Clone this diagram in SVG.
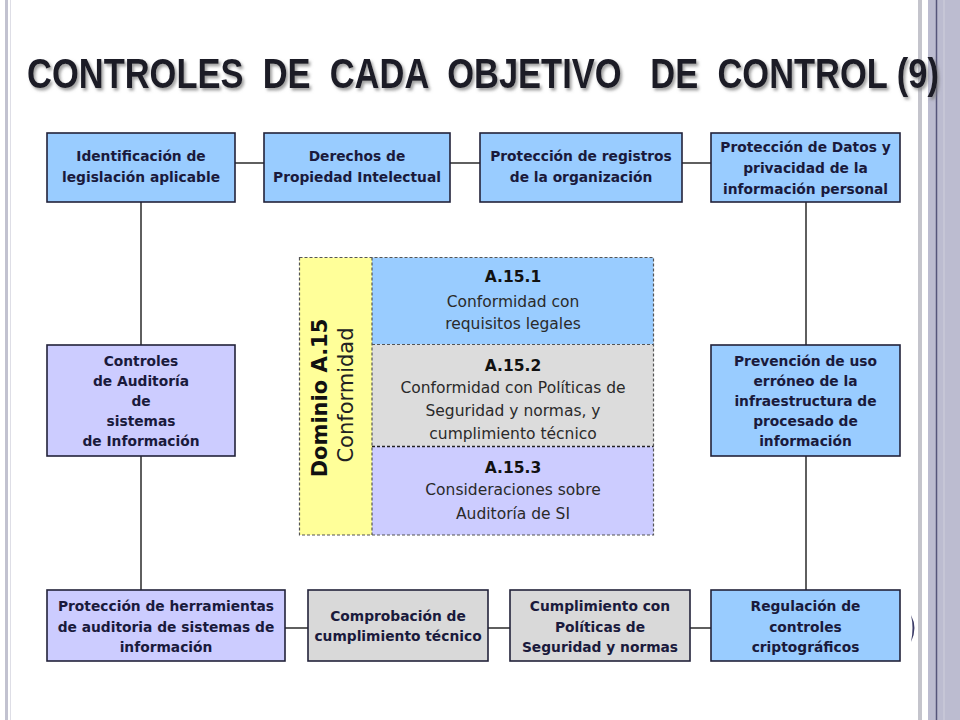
<svg xmlns="http://www.w3.org/2000/svg" width="960" height="720" viewBox="0 0 960 720">
<defs>
<filter id="sh" x="-5%" y="-30%" width="110%" height="160%">
<feDropShadow dx="2" dy="2.5" stdDeviation="1.6" flood-color="#777" flood-opacity="0.7"/>
</filter>
</defs>
<style>
.box{stroke:#22223a;stroke-width:1.6}
.blue{fill:#99ccff}
.lav{fill:#ccccff}
.gray{fill:#d9d9d9}
.bt{font-family:"DejaVu Sans",sans-serif;font-weight:bold;font-size:13.8px;fill:#1a1a3c;text-anchor:middle}
.ct{font-family:"DejaVu Sans",sans-serif;font-size:15.5px;fill:#2a2a2a;text-anchor:middle}
.ch{font-family:"DejaVu Sans",sans-serif;font-size:15.5px;font-weight:bold;fill:#111;text-anchor:middle}
.dash{stroke:#555;stroke-width:1.2;stroke-dasharray:3 2;fill:none}
.con{stroke:#2a2a2a;stroke-width:1.5;fill:none}
</style>
<rect width="960" height="720" fill="#ffffff"/>
<!-- slide decorations -->
<rect x="5" y="0" width="3" height="720" fill="#c2c2d0"/>
<line x1="10.5" y1="0" x2="10.5" y2="720" stroke="#dedee6" stroke-width="1"/>
<rect x="918" y="0" width="4" height="720" fill="#c4c4cc"/>
<rect x="928" y="0" width="32" height="720" fill="#bcbcd0"/>
<rect x="943" y="0" width="2" height="720" fill="#c6c6d6"/>
<line x1="936.5" y1="0" x2="936.5" y2="720" stroke="#55557a" stroke-width="1.5"/>
<path d="M911,615 Q918,628 911,642 Q914,628 911,615 Z" fill="#3c3c68"/>

<text x="27" y="88" xml:space="preserve" textLength="912" lengthAdjust="spacingAndGlyphs" filter="url(#sh)" style="font-family:'Liberation Sans',sans-serif;font-weight:bold;font-size:42px;fill:#1a1a28">CONTROLES  DE  CADA  OBJETIVO   DE  CONTROL (9)</text>

<g id="connectors">
<line class="con" x1="235" y1="163" x2="264" y2="163"/>
<line class="con" x1="450" y1="163" x2="480" y2="163"/>
<line class="con" x1="682" y1="163" x2="711" y2="163"/>
<line class="con" x1="141" y1="202" x2="141" y2="345"/>
<line class="con" x1="141" y1="456" x2="141" y2="590"/>
<line class="con" x1="806" y1="202" x2="806" y2="345"/>
<line class="con" x1="806" y1="456" x2="806" y2="590"/>
<line class="con" x1="285" y1="628" x2="308" y2="628"/>
<line class="con" x1="488" y1="628" x2="510" y2="628"/>
<line class="con" x1="690" y1="628" x2="711" y2="628"/>
</g>

<g id="n1">
<rect class="box blue" x="47" y="133" width="188" height="69"/>
<text class="bt" x="141" y="161">Identificación de</text>
<text class="bt" x="141" y="182">legislación aplicable</text>
</g>
<g id="n2">
<rect class="box blue" x="264" y="133" width="186" height="69"/>
<text class="bt" x="357" y="161">Derechos de</text>
<text class="bt" x="357" y="182">Propiedad Intelectual</text>
</g>
<g id="n3">
<rect class="box blue" x="480" y="133" width="202" height="69"/>
<text class="bt" x="581" y="161">Protección de registros</text>
<text class="bt" x="581" y="182">de la organización</text>
</g>
<g id="n4">
<rect class="box blue" x="711" y="133" width="189" height="69"/>
<text class="bt" x="805.5" y="152">Protección de Datos y</text>
<text class="bt" x="805.5" y="173">privacidad de la</text>
<text class="bt" x="805.5" y="194">información personal</text>
</g>
<g id="n5">
<rect class="box lav" x="47" y="345" width="188" height="111"/>
<text class="bt" x="141" y="366">Controles</text>
<text class="bt" x="141" y="386">de Auditoría</text>
<text class="bt" x="141" y="406">de</text>
<text class="bt" x="141" y="426">sistemas</text>
<text class="bt" x="141" y="446">de Información</text>
</g>
<g id="n6">
<rect class="box blue" x="711" y="345" width="189" height="111"/>
<text class="bt" x="805.5" y="366">Prevención de uso</text>
<text class="bt" x="805.5" y="386">erróneo de la</text>
<text class="bt" x="805.5" y="406">infraestructura de</text>
<text class="bt" x="805.5" y="426">procesado de</text>
<text class="bt" x="805.5" y="446">información</text>
</g>
<g id="n7">
<rect class="box lav" x="47" y="590" width="238" height="71"/>
<text class="bt" x="166" y="611">Protección de herramientas</text>
<text class="bt" x="166" y="632">de auditoria de sistemas de</text>
<text class="bt" x="166" y="652">información</text>
</g>
<g id="n8">
<rect class="box gray" x="308" y="590" width="180" height="71"/>
<text class="bt" x="398" y="621">Comprobación de</text>
<text class="bt" x="398" y="641">cumplimiento técnico</text>
</g>
<g id="n9">
<rect class="box gray" x="510" y="590" width="180" height="71"/>
<text class="bt" x="600" y="611">Cumplimiento con</text>
<text class="bt" x="600" y="632">Políticas de</text>
<text class="bt" x="600" y="652">Seguridad y normas</text>
</g>
<g id="n10">
<rect class="box blue" x="711" y="590" width="189" height="71"/>
<text class="bt" x="805.5" y="611">Regulación de</text>
<text class="bt" x="805.5" y="632">controles</text>
<text class="bt" x="805.5" y="652">criptográficos</text>
</g>

<g id="domain">
<rect x="299.5" y="257.5" width="72.5" height="277.5" fill="#ffff99"/>
<rect x="372" y="257.5" width="281.5" height="87" fill="#99ccff"/>
<rect x="372" y="344.5" width="281.5" height="102" fill="#dcdcdc"/>
<rect x="372" y="446.5" width="281.5" height="88.5" fill="#ccccff"/>
<rect class="dash" x="299.5" y="257.5" width="354" height="277.5"/>
<line class="dash" x1="372" y1="257.5" x2="372" y2="535"/>
<line class="dash" x1="372" y1="344.5" x2="653.5" y2="344.5"/>
<line class="dash" x1="372" y1="446.5" x2="653.5" y2="446.5" style="stroke:#222;stroke-width:1.6"/>
<text transform="translate(327,398) rotate(-90)" style="font-family:'DejaVu Sans',sans-serif;font-weight:bold;font-size:21px;fill:#111;text-anchor:middle">Dominio A.15</text>
<text transform="translate(353,395) rotate(-90)" style="font-family:'DejaVu Sans',sans-serif;font-size:21px;fill:#222;text-anchor:middle">Conformidad</text>
</g>
<g id="a151">
<text class="ch" x="513" y="282">A.15.1</text>
<text class="ct" x="513" y="307">Conformidad con</text>
<text class="ct" x="513" y="329">requisitos legales</text>
</g>
<g id="a152">
<text class="ch" x="513" y="371">A.15.2</text>
<text class="ct" x="513" y="393">Conformidad con Políticas de</text>
<text class="ct" x="513" y="416">Seguridad y normas, y</text>
<text class="ct" x="513" y="439">cumplimiento técnico</text>
</g>
<g id="a153">
<text class="ch" x="513" y="473">A.15.3</text>
<text class="ct" x="513" y="495">Consideraciones sobre</text>
<text class="ct" x="513" y="519">Auditoría de SI</text>
</g>
</svg>
